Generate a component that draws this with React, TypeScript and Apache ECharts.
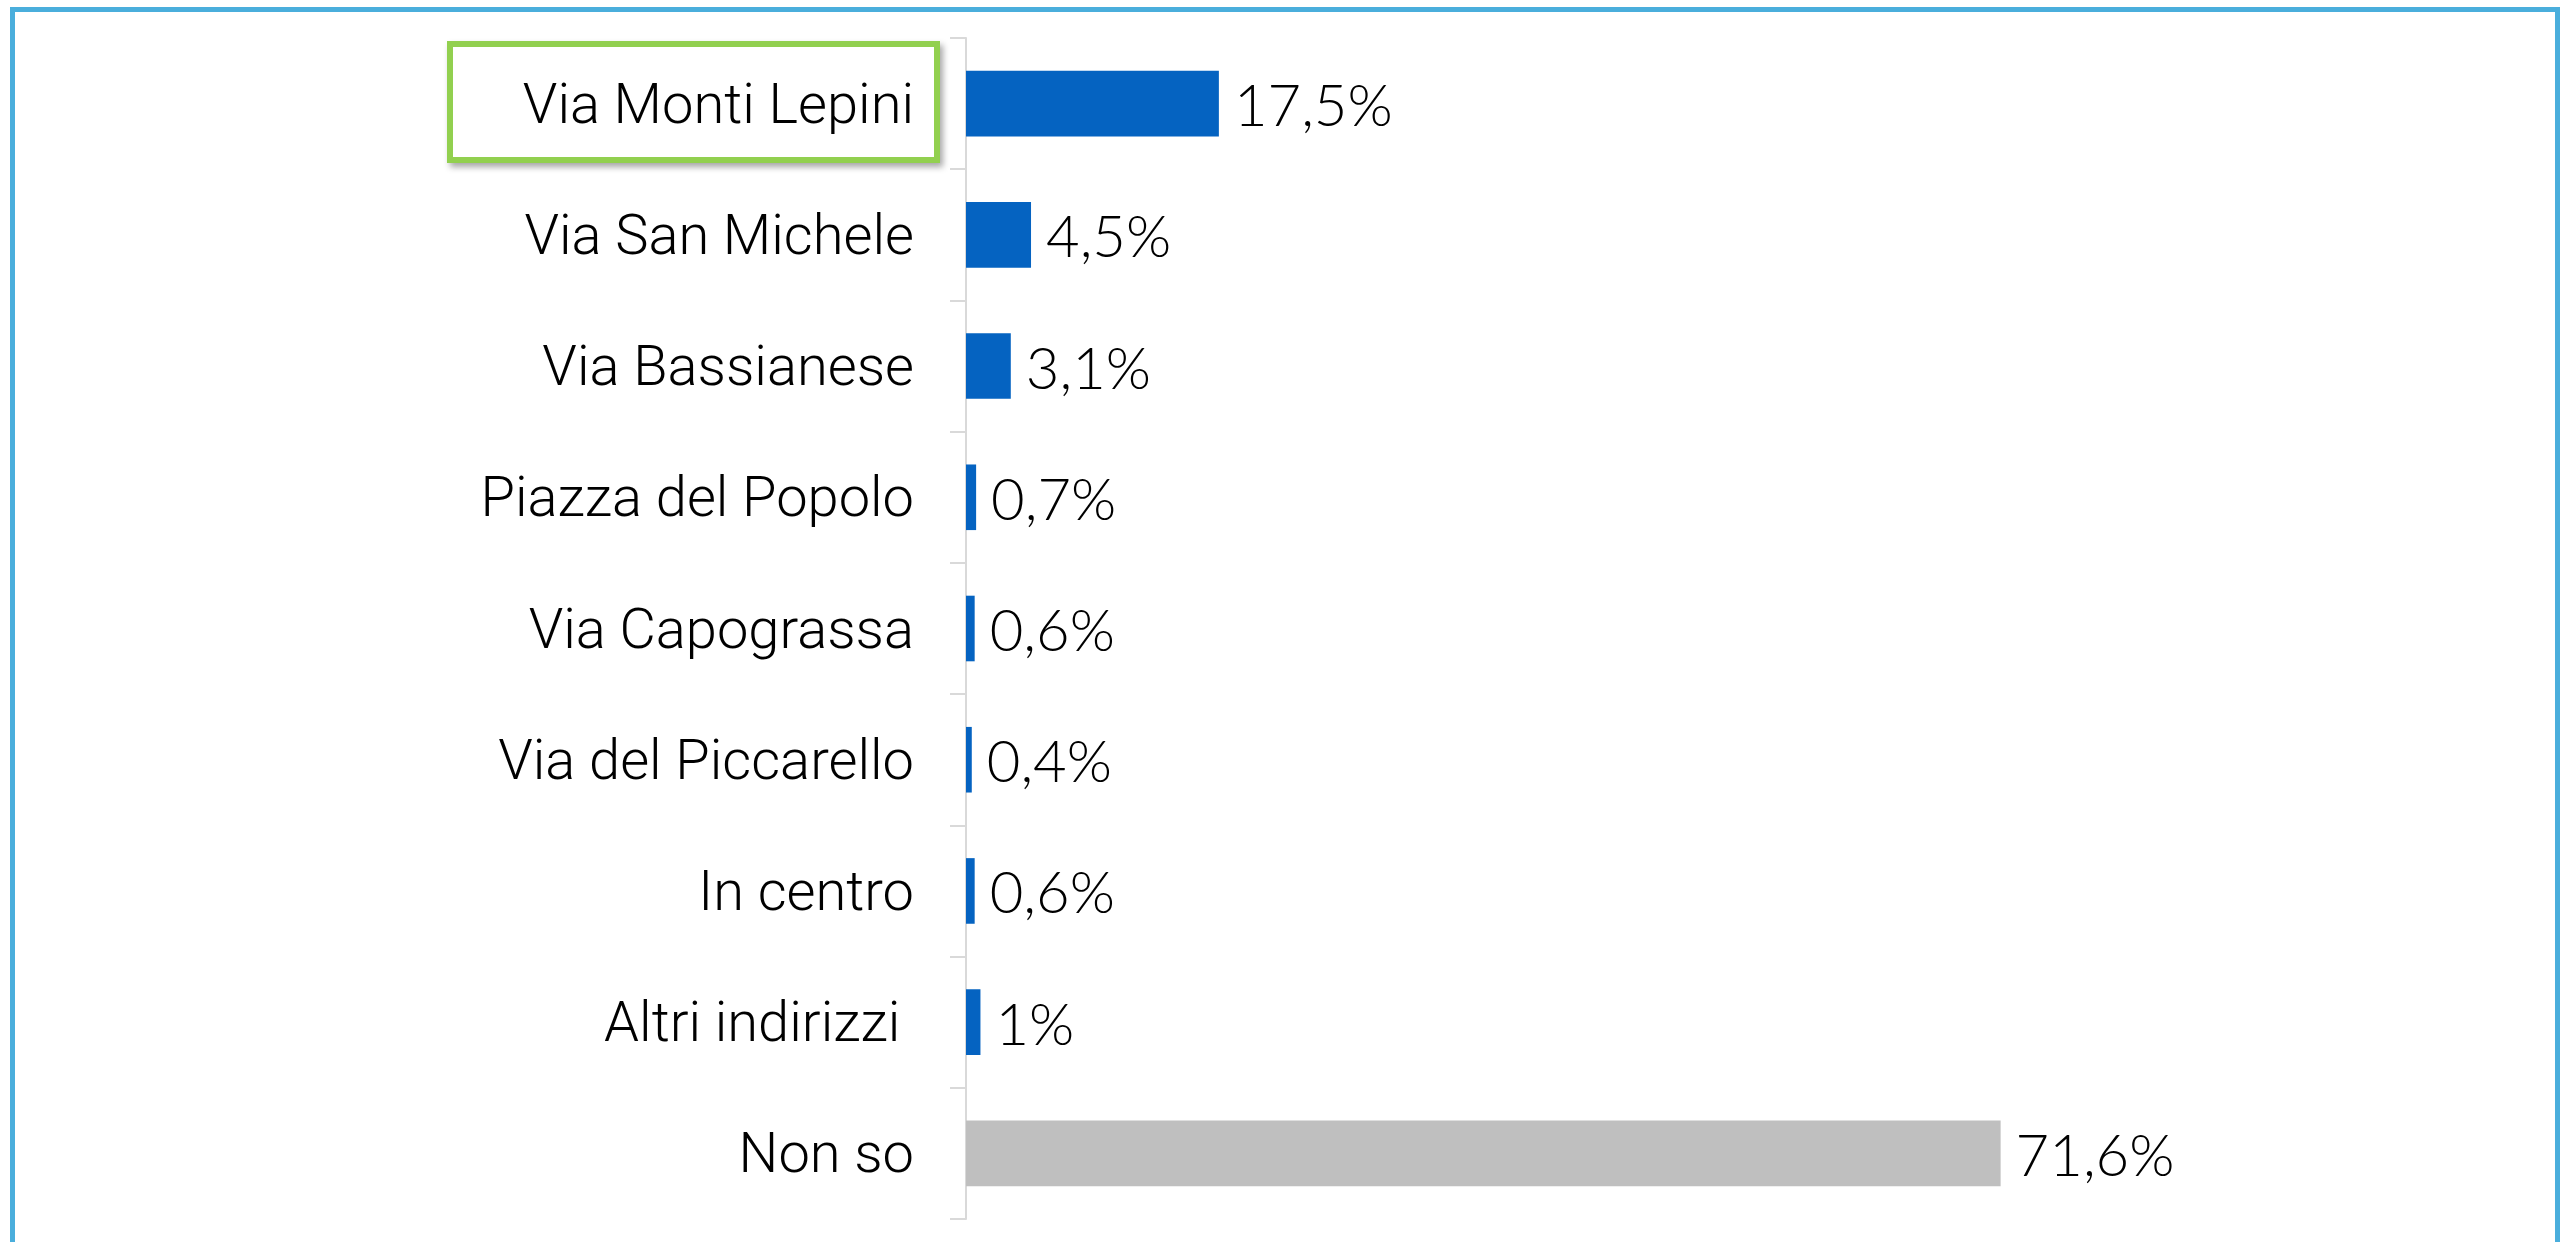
import React, { useEffect, useRef } from "react";
import * as echarts from "echarts";

const categories = [
  "Via Monti Lepini",
  "Via San Michele",
  "Via Bassianese",
  "Piazza del Popolo",
  "Via Capograssa",
  "Via del Piccarello",
  "In centro",
  "Altri indirizzi ",
  "Non so",
];
const values = [17.5, 4.5, 3.1, 0.7, 0.6, 0.4, 0.6, 1, 71.6];
const barColors = [
  "#0563C1",
  "#0563C1",
  "#0563C1",
  "#0563C1",
  "#0563C1",
  "#0563C1",
  "#0563C1",
  "#0563C1",
  "#BFBFBF",
];

const FONT = "Roboto";
const VALUE_FONT = "Lato";

export default function App() {
  const ref = useRef<HTMLDivElement>(null);
  useEffect(() => {
    if (!ref.current) return;
    const chart = echarts.init(ref.current, null, { renderer: "svg" });
    chart.setOption({
      animation: false,
      backgroundColor: "#ffffff",
      grid: { left: 966, top: 38, width: 1445, height: 1181, containLabel: false },
      xAxis: {
        type: "value",
        min: 0,
        max: 100,
        show: false,
      },
      yAxis: {
        type: "category",
        data: categories,
        inverse: true,
        offset: 2,
        axisLine: { show: true, lineStyle: { color: "#D9D9D9", width: 2 } },
        axisTick: { show: true, length: 16, lineStyle: { color: "#D9D9D9", width: 2 } },
        axisLabel: {
          interval: 0,
          margin: 50,
          color: "#000000",
          fontFamily: FONT,
          fontWeight: 300,
          fontSize: 56,
        },
        splitLine: { show: false },
      },
      series: [
        {
          type: "bar",
          data: values.map((v, i) => ({ value: v, itemStyle: { color: barColors[i] } })),
          barWidth: "50%",
          label: {
            show: true,
            position: "right",
            distance: 15,
            color: "#000000",
            fontFamily: VALUE_FONT,
            fontWeight: 300,
            fontSize: 58,
            formatter: (p: any) => String(p.value).replace(".", ",") + "%",
          },
        },
      ],
      graphic: [
        {
          type: "rect",
          z: -1,
          shape: { x: 12.5, y: 9.5, width: 2545, height: 1300 },
          style: { fill: "none", stroke: "#4AAEDC", lineWidth: 5 },
          silent: true,
        },
        {
          type: "rect",
          z: -1,
          shape: { x: 450, y: 44, width: 487, height: 116 },
          style: {
            fill: "#ffffff",
            stroke: "#92D050",
            lineWidth: 6,
            shadowBlur: 6,
            shadowOffsetX: 3,
            shadowOffsetY: 4,
            shadowColor: "rgba(0,0,0,0.35)",
          },
          silent: true,
        },
      ],
    });
    return () => chart.dispose();
  }, []);
  return (
    <div
      ref={ref}
      style={{ position: "fixed", left: 0, top: 0, width: 2569, height: 1242 }}
    />
  );
}
